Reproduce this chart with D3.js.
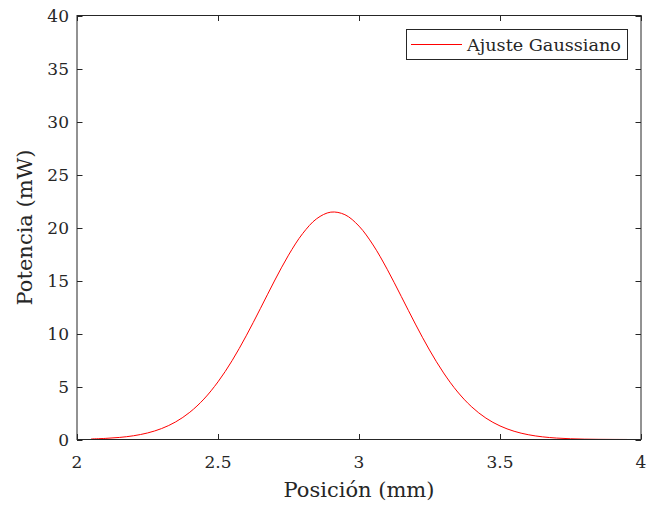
<!DOCTYPE html>
<html><head><meta charset="utf-8">
<script src="https://cdn.jsdelivr.net/npm/d3@7"></script>
<style>body{margin:0;background:#fff}svg{display:block}text{font-family:"DejaVu Serif",serif;fill:#262626}</style>
</head><body>
<script>
const posX = [2.05,2.10,2.15,2.20,2.25,2.30,2.35,2.40,2.45,2.50,2.55,2.60,2.65,2.70,2.75,2.80,2.85,2.90,2.95,3.00,3.05,3.10,3.15,3.20,3.25,3.30,3.35,3.40,3.45,3.50,3.55,3.60,3.65,3.70,3.75,3.80,3.85,3.90,3.95];
const power = [0.052,0.102,0.194,0.352,0.616,1.032,1.662,2.570,3.813,5.44,7.44,9.78,12.34,14.95,17.39,19.42,20.83,21.45,21.21,20.13,18.35,16.06,13.49,10.89,8.44,6.28,4.48,3.07,2.02,1.28,0.777,0.453,0.253,0.136,0.070,0.035,0.017,0.0076,0.0033];
const xTicks = [2,2.5,3,3.5,4];
const yTicks = [0,5,10,15,20,25,30,35,40];
const seriesName = "Ajuste Gaussiano";
const xLabel = "Posición (mm)";
const yLabel = "Potencia (mW)";

const W=649,H=508, L=77, R=641, T=15.5, B=439.5;
const svg=d3.select("body").append("svg").attr("width",W).attr("height",H);
const x=d3.scaleLinear().domain([2,4]).range([L,R]);
const y=d3.scaleLinear().domain([0,40]).range([B,T]);
const ax="#262626", tl=5.5;

const data=posX.map((v,i)=>[v,power[i]]);
svg.append("path").datum(data).attr("fill","none").attr("stroke","#ff0000").attr("stroke-width",1)
  .attr("d",d3.line().x(d=>x(d[0])).y(d=>y(d[1])).curve(d3.curveCatmullRom));

const g=svg.append("g").attr("stroke",ax).attr("stroke-width",1);
g.append("rect").attr("x",L).attr("y",T).attr("width",R-L).attr("height",B-T).attr("fill","none");
xTicks.forEach(t=>{const px=Math.round(x(t))+0.5;
  g.append("line").attr("x1",px).attr("x2",px).attr("y1",B).attr("y2",B-tl);
  g.append("line").attr("x1",px).attr("x2",px).attr("y1",T).attr("y2",T+tl);});
yTicks.forEach(t=>{const py=Math.round(y(t))+0.5;
  g.append("line").attr("x1",L).attr("x2",L+tl).attr("y1",py).attr("y2",py);
  g.append("line").attr("x1",R).attr("x2",R-tl).attr("y1",py).attr("y2",py);});

svg.append("g").selectAll("text").data(xTicks).join("text")
  .attr("x",d=>x(d)).attr("y",468).attr("text-anchor","middle").attr("font-size",17).text(d=>d3.format("")(d));
svg.append("g").selectAll("text").data(yTicks).join("text")
  .attr("x",L-8).attr("y",d=>y(d)+6).attr("text-anchor","end").attr("font-size",17).text(d=>d);

svg.append("text").attr("x",(L+R)/2).attr("y",497).attr("text-anchor","middle").attr("font-size",21).text(xLabel);
svg.append("text").attr("transform",`translate(32,${(T+B)/2}) rotate(-90)`).attr("text-anchor","middle").attr("font-size",21).text(yLabel);

const lg=svg.append("g");
lg.append("rect").attr("x",406.5).attr("y",29.5).attr("width",221).attr("height",30).attr("fill","#fff").attr("stroke",ax).attr("stroke-width",1);
lg.append("line").attr("x1",411).attr("x2",462).attr("y1",44.5).attr("y2",44.5).attr("stroke","#ff0000").attr("stroke-width",1);
lg.append("text").attr("x",467).attr("y",50.5).attr("font-size",17).attr("textLength",154).attr("lengthAdjust","spacingAndGlyphs").text(seriesName);
</script>
</body></html>
